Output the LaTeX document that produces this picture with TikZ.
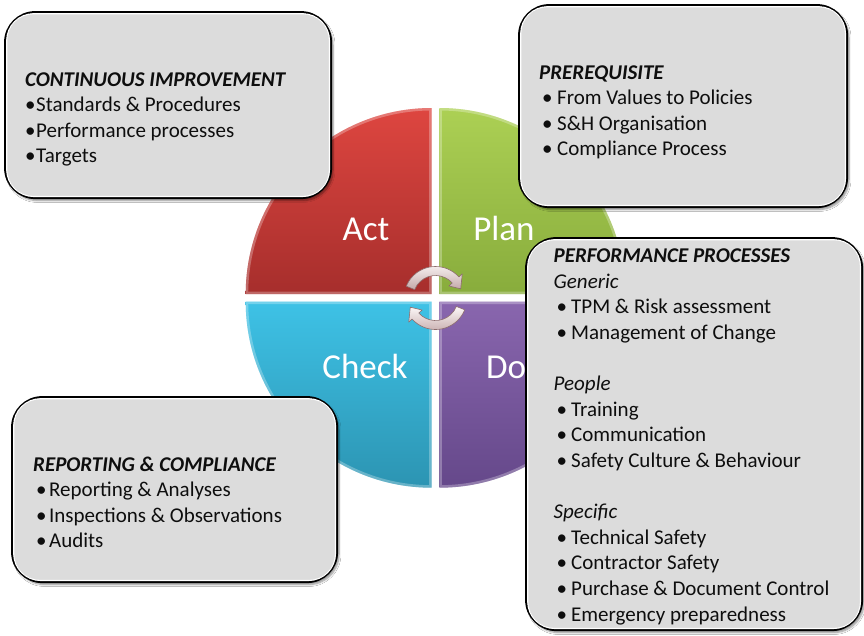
\documentclass[tikz,border=0pt]{standalone}
\usepackage{fontspec}
\setmainfont{Carlito}
\usetikzlibrary{shadows.blur}
\definecolor{actT}{RGB}{222,70,64}
\definecolor{actB}{RGB}{166,46,44}
\definecolor{planT}{RGB}{172,208,84}
\definecolor{planB}{RGB}{136,172,60}
\definecolor{checkT}{RGB}{62,194,230}
\definecolor{checkB}{RGB}{44,148,178}
\definecolor{doT}{RGB}{137,102,174}
\definecolor{doB}{RGB}{101,72,138}
\definecolor{boxgray}{RGB}{220,220,220}
\definecolor{arrT}{RGB}{252,248,248}
\definecolor{arrB}{RGB}{196,168,168}
\definecolor{arrD}{RGB}{140,108,108}
\definecolor{txt}{RGB}{14,14,14}
\newcommand\pdbul[2]{\hspace*{#1}\makebox[#2][l]{\textbullet}}
\tikzset{
  infobox/.style={draw=black, line width=2.2pt, rounded corners=30pt, fill=boxgray,
    anchor=north west, inner sep=0pt,
    blur shadow={shadow xshift=2pt, shadow yshift=-2.5pt, shadow blur steps=6, shadow opacity=45}},
  innerrim/.style={draw=white, line width=1.1pt, rounded corners=27pt},
  quadlabel/.style={text=white, font=\fontsize{35}{40}\selectfont, anchor=base, inner sep=0pt},
  boxtext/.style={anchor=base west, inner sep=0pt, text=txt, font=\fontsize{21}{25.6}\selectfont},
  cyclearrow/.style={top color=arrT, bottom color=arrB, draw=arrD, line width=0.6pt, line join=round},
  bevel/.style={draw=white, opacity=0.28, line width=5pt}
}
\begin{document}
\begin{tikzpicture}[x=1pt,y=-1pt]
\useasboundingbox (0,0) rectangle (864,635);
\fill[white] (0,0) rectangle (864,635);

% ---- quadrants ----
\path[top color=actT, bottom color=actB]
  (431.7,294) -- (245.7,294) arc[start angle=180,end angle=270,radius=186] -- cycle;
\path[top color=planT, bottom color=planB]
  (439.3,294) -- (439.3,108) arc[start angle=270,end angle=360,radius=186] -- cycle;
\path[top color=checkT, bottom color=checkB]
  (431.7,301.7) -- (431.7,487.7) arc[start angle=90,end angle=180,radius=186] -- cycle;
\path[top color=doT, bottom color=doB]
  (439.3,301.7) -- (625.3,301.7) arc[start angle=0,end angle=90,radius=186] -- cycle;
% bevel highlights
\begin{scope}
  \clip (431.7,294) -- (245.7,294) arc[start angle=180,end angle=270,radius=186] -- cycle;
  \draw[bevel] (431.7,294) -- (245.7,294) arc[start angle=180,end angle=270,radius=186] -- cycle;
\end{scope}
\begin{scope}
  \clip (439.3,294) -- (439.3,108) arc[start angle=270,end angle=360,radius=186] -- cycle;
  \draw[bevel] (439.3,294) -- (439.3,108) arc[start angle=270,end angle=360,radius=186] -- cycle;
\end{scope}
\begin{scope}
  \clip (431.7,301.7) -- (431.7,487.7) arc[start angle=90,end angle=180,radius=186] -- cycle;
  \draw[bevel] (431.7,301.7) -- (431.7,487.7) arc[start angle=90,end angle=180,radius=186] -- cycle;
\end{scope}
\begin{scope}
  \clip (439.3,301.7) -- (625.3,301.7) arc[start angle=0,end angle=90,radius=186] -- cycle;
  \draw[bevel] (439.3,301.7) -- (625.3,301.7) arc[start angle=0,end angle=90,radius=186] -- cycle;
\end{scope}

\node[quadlabel] (act) at (366,240) {Act};
\node[quadlabel] (plan) at (504,240) {Plan};
\node[quadlabel] (check) at (365,378.5) {Check};
\node[quadlabel] (do) at (506,378.5) {Do};

% ---- cycle arrows ----
\begin{scope}[shift={(435.5,298)}]
  \path[cyclearrow] (202:31.5) arc[start angle=202,end angle=318,radius=31.5]
     -- (318:36) -- (340:26.8) -- (318:18) -- (318:22.5)
     arc[start angle=318,end angle=202,radius=22.5] -- cycle;
  \path[cyclearrow] (22:31.5) arc[start angle=22,end angle=138,radius=31.5]
     -- (138:36) -- (160:26.8) -- (138:18) -- (138:22.5)
     arc[start angle=138,end angle=22,radius=22.5] -- cycle;
\end{scope}

% ---- boxes ----
\node[infobox, minimum width=325.8pt, minimum height=185.8pt] (ci) at (4.1,11.1) {};
\draw[innerrim] ([shift={(2.6pt,-2.6pt)}]ci.north west) rectangle ([shift={(-2.6pt,2.6pt)}]ci.south east);
\node[infobox, minimum width=327.8pt, minimum height=201.8pt] (pre) at (518.1,4.1) {};
\draw[innerrim] ([shift={(2.6pt,-2.6pt)}]pre.north west) rectangle ([shift={(-2.6pt,2.6pt)}]pre.south east);
\node[infobox, minimum width=335.8pt, minimum height=391.8pt] (perf) at (525.1,237.1) {};
\draw[innerrim] ([shift={(2.6pt,-2.6pt)}]perf.north west) rectangle ([shift={(-2.6pt,2.6pt)}]perf.south east);
\node[infobox, minimum width=324.8pt, minimum height=184.8pt] (rep) at (11.1,396.1) {};
\draw[innerrim] ([shift={(2.6pt,-2.6pt)}]rep.north west) rectangle ([shift={(-2.6pt,2.6pt)}]rep.south east);

% ---- box texts ----
\node[boxtext] (citxt) at (25,86) {\parbox[t]{300pt}{%
  \textbf{\textit{CONTINUOUS IMPROVEMENT}}\\
  \pdbul{0pt}{11pt}Standards \& Procedures\\
  \pdbul{0pt}{11pt}Performance processes\\
  \pdbul{0pt}{11pt}Targets}};

\node[boxtext] (pretxt) at (539,79) {\parbox[t]{300pt}{%
  \textbf{\textit{PREREQUISITE}}\\
  \pdbul{3pt}{15pt}From Values to Policies\\
  \pdbul{3pt}{15pt}S\&H Organisation\\
  \pdbul{3pt}{15pt}Compliance Process}};

\node[boxtext] (perftxt) at (553.5,262.7) {\parbox[t]{300pt}{%
  \textbf{\textit{PERFORMANCE PROCESSES}}\\
  \textit{Generic}\\
  \pdbul{3pt}{14.5pt}TPM \& Risk assessment\\
  \pdbul{3pt}{14.5pt}Management of Change\\[25.6pt]
  \textit{People}\\
  \pdbul{3pt}{14.5pt}Training\\
  \pdbul{3pt}{14.5pt}Communication\\
  \pdbul{3pt}{14.5pt}Safety Culture \& Behaviour\\[25.6pt]
  \textit{Specific}\\
  \pdbul{3pt}{14.5pt}Technical Safety\\
  \pdbul{3pt}{14.5pt}Contractor Safety\\
  \pdbul{3pt}{14.5pt}Purchase \& Document Control\\
  \pdbul{3pt}{14.5pt}Emergency preparedness}};

\node[boxtext] (reptxt) at (33,471) {\parbox[t]{300pt}{%
  \textbf{\textit{REPORTING \& COMPLIANCE}}\\
  \pdbul{3pt}{13pt}Reporting \& Analyses\\
  \pdbul{3pt}{13pt}Inspections \& Observations\\
  \pdbul{3pt}{13pt}Audits}};
\end{tikzpicture}
\end{document}
